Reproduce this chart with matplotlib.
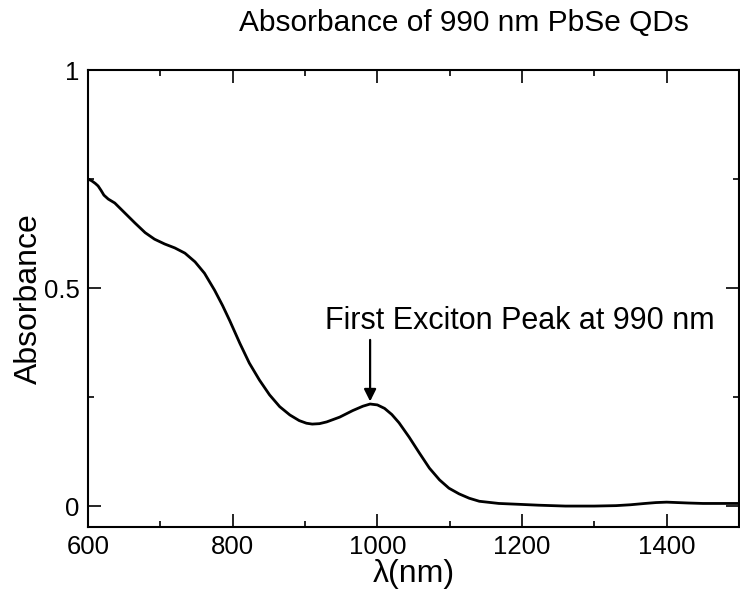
import matplotlib
matplotlib.use("Agg")
import matplotlib.pyplot as plt
from matplotlib.ticker import MultipleLocator

plt.rcParams['font.family'] = ['Liberation Sans', 'DejaVu Sans']

wavelength = [600, 605, 610, 614, 618, 622, 628, 637, 651, 665, 679, 692, 706, 720,
              734, 748, 761, 775, 786, 796, 810, 823, 837, 851, 865, 879, 892, 902,
              910, 920, 930, 948, 966, 980, 990, 1000, 1010, 1020, 1030, 1044, 1058,
              1072, 1086, 1099, 1113, 1127, 1141, 1168, 1196, 1223, 1260, 1300, 1330,
              1350, 1370, 1385, 1400, 1415, 1430, 1450, 1475, 1500]
absorbance = [0.750, 0.746, 0.740, 0.734, 0.724, 0.713, 0.704, 0.695, 0.672, 0.649,
              0.627, 0.612, 0.601, 0.592, 0.580, 0.560, 0.534, 0.495, 0.460, 0.425,
              0.373, 0.328, 0.289, 0.255, 0.228, 0.209, 0.196, 0.190, 0.188, 0.189,
              0.193, 0.204, 0.219, 0.229, 0.234, 0.232, 0.224, 0.210, 0.191, 0.158,
              0.122, 0.087, 0.060, 0.041, 0.028, 0.018, 0.011, 0.006, 0.004, 0.002,
              0.000, 0.000, 0.001, 0.003, 0.006, 0.008, 0.009, 0.008, 0.007, 0.006,
              0.006, 0.006]

x_ticks = [600, 800, 1000, 1200, 1400]
y_ticks = [0, 0.5, 1]
y_tick_labels = ["0", "0.5", "1"]

fig = plt.figure(figsize=(7.40, 5.94), dpi=100)
ax = fig.add_axes([88/740, 1 - 527/594, 651/740, (527 - 70)/594])

ax.plot(wavelength, absorbance, color='black', lw=2.0, solid_joinstyle='round')

ax.set_xlim(600, 1500)
ax.set_ylim(-0.048, 1.0)
ax.set_xticks(x_ticks)
ax.set_xticklabels([str(t) for t in x_ticks])
ax.set_yticks(y_ticks)
ax.set_yticklabels(y_tick_labels)
ax.xaxis.set_minor_locator(MultipleLocator(100))
ax.yaxis.set_minor_locator(MultipleLocator(0.25))
ax.tick_params(which='both', direction='in', top=True, right=True, width=1.2,
               labelsize=18.5)
ax.tick_params(which='major', length=9.5, pad=6)
ax.tick_params(which='minor', length=4.5)
for s in ax.spines.values():
    s.set_linewidth(1.5)

ax.set_xlabel("λ(nm)", fontsize=23, labelpad=0)
ax.set_ylabel("Absorbance", fontsize=23, labelpad=0)

ax.text(927, 0.406, "First Exciton Peak at 990 nm", fontsize=22,
        ha='left', va='baseline')
ax.annotate("", xy=(990, 0.240), xytext=(990, 0.381),
            arrowprops=dict(arrowstyle='-|>', color='black', lw=1.6,
                            mutation_scale=18, shrinkA=0, shrinkB=0))

fig.text(464/740, 1 - 31/594, "Absorbance of 990 nm PbSe QDs", fontsize=21.5,
         ha='center', va='baseline')

fig.savefig("out.png", dpi=100)
